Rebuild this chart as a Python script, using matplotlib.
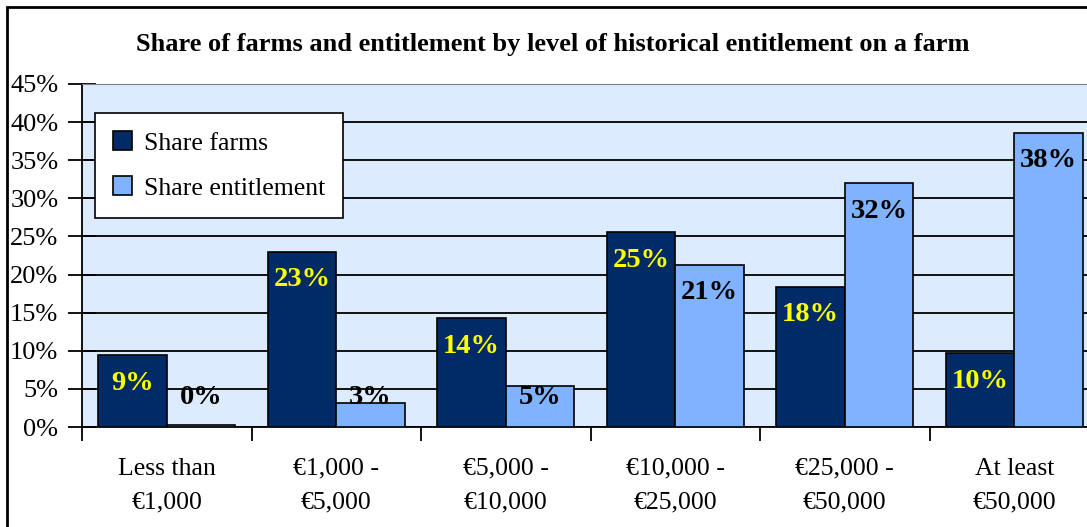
import numpy as np
import matplotlib.pyplot as plt
from matplotlib.patches import Rectangle

plt.rcParams['font.family'] = ['Liberation Serif', 'DejaVu Serif']

categories = ['Less than\n€1,000', '€1,000 -\n€5,000', '€5,000 -\n€10,000',
              '€10,000 -\n€25,000', '€25,000 -\n€50,000', 'At least\n€50,000']
share_farms = [9.4, 23.0, 14.3, 25.6, 18.4, 9.7]
share_entitlement = [0.3, 3.1, 5.4, 21.3, 32.0, 38.6]
farm_labels = ['9%', '23%', '14%', '25%', '18%', '10%']
ent_labels = ['0%', '3%', '5%', '21%', '32%', '38%']
y_ticks = [0, 5, 10, 15, 20, 25, 30, 35, 40, 45]

W, H = 1087, 527
fig = plt.figure(figsize=(W / 100, H / 100), dpi=100)

# outer chart border (cropped on the right and bottom)
fig.patches.append(Rectangle((7 / W, -0.1), 1.2, (H - 7) / H + 0.1,
                             transform=fig.transFigure, fill=False,
                             edgecolor='black', linewidth=2))

ax = fig.add_axes([82 / W, (H - 427) / H, 1017 / W, 343 / H])
ax.set_facecolor('#DDEBFF')

x = np.arange(len(categories))
bw = 0.404
ax.bar(x - bw / 2, share_farms, bw, color='#002B66', edgecolor='black',
       linewidth=1.2, label='Share farms', zorder=3)
ax.bar(x + bw / 2, share_entitlement, bw, color='#80B3FF', edgecolor='black',
       linewidth=1.2, label='Share entitlement', zorder=3)

for i in range(len(categories)):
    ax.text(x[i] - bw / 2, max(share_farms[i] - 3.7, 3.9), farm_labels[i],
            ha='center', va='center', color='#FFFF00', fontsize=20.5,
            fontweight='bold', zorder=4)
    ax.text(x[i] + bw / 2, max(share_entitlement[i] - 3.7, 3.9), ent_labels[i],
            ha='center', va='center', color='black', fontsize=20.5,
            fontweight='bold', zorder=4)

ax.set_xlim(-0.5, len(categories) - 0.5)
ax.set_ylim(0, 45)
ax.set_yticks(y_ticks)
ax.set_yticklabels([f'{t}%' for t in y_ticks], fontsize=19)
ax.yaxis.grid(True, color='black', linewidth=1.3, zorder=1)
ax.tick_params(axis='y', direction='inout', length=20, width=1.3, pad=7)

ax.set_xticks(np.arange(len(categories) + 1) - 0.5)
ax.set_xticklabels([])
ax.set_xticks(x, minor=True)
ax.set_xticklabels(categories, minor=True, fontsize=18.5, linespacing=1.68)
ax.tick_params(axis='x', which='major', direction='out', length=10, width=1.3)
ax.tick_params(axis='x', which='minor', length=0, pad=22)

ax.spines['left'].set_linewidth(1.3)
ax.spines['bottom'].set_linewidth(1.3)
ax.spines['top'].set_color('#808080')
ax.spines['right'].set_visible(False)

leg = ax.legend(loc='upper left', bbox_to_anchor=(0.013, 0.915), fontsize=18.5,
                frameon=True, fancybox=False, edgecolor='black',
                framealpha=1, borderpad=0.7, labelspacing=0.85,
                handlelength=0.75, handleheight=0.75, handletextpad=0.45,
                borderaxespad=0)
leg.get_frame().set_linewidth(1.2)

fig.text(553 / W, (H - 44) / H,
         'Share of farms and entitlement by level of historical entitlement on a farm',
         ha='center', va='center', fontsize=19, fontweight='bold')

fig.savefig('out.png', dpi=100)
